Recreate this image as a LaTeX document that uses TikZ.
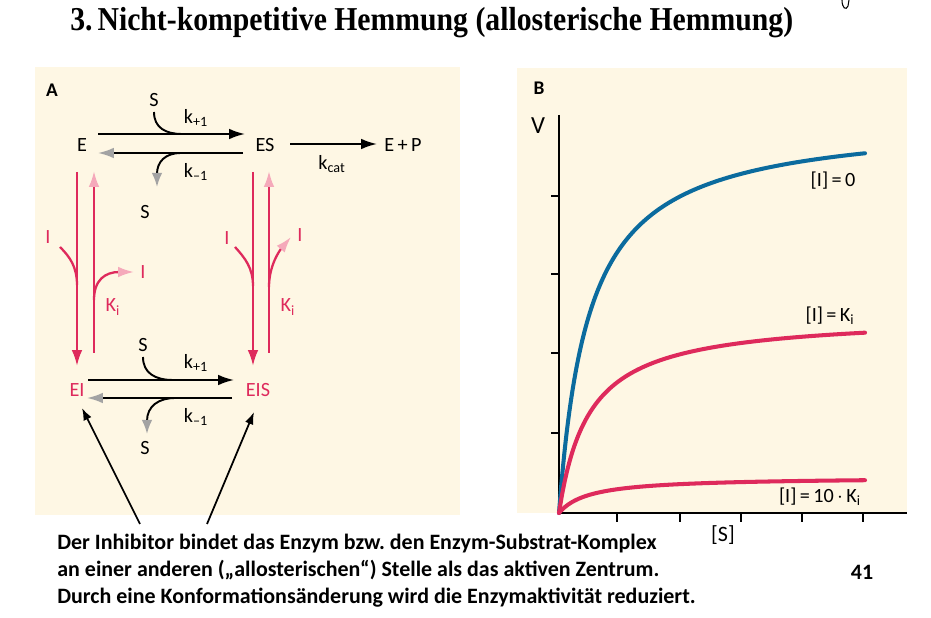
\documentclass[tikz,border=0pt]{standalone}
\usepackage{fontspec}
\setmainfont{Carlito}
\newfontfamily\titlefont{Liberation Serif}
\usetikzlibrary{arrows.meta,calc}

\definecolor{panelbg}{HTML}{FEF7E4}
\definecolor{hemmred}{HTML}{DE2A5C}
\definecolor{hemmpink}{HTML}{F5A9BA}
\definecolor{hemmgray}{HTML}{A3A3A3}
\definecolor{hemmblue}{HTML}{0B6B9E}

\tikzset{
  lbl/.style={inner sep=0pt, font=\fontsize{11.5}{12}\selectfont},
  fwd/.style={line width=1.1pt, -{Latex[length=9pt,width=6pt]}},
  bwd/.style={line width=1.1pt, -{Latex[length=9pt,width=6pt,color=hemmgray]}},
  redline/.style={hemmred, line width=1.3pt},
  reddown/.style={redline, -{Latex[length=9pt,width=6pt]}},
  redup/.style={redline, -{Latex[length=9pt,width=6pt,color=hemmpink]}},
  axis/.style={line width=1.6pt},
  mmcurve/.style={line width=2.3pt, line cap=round},
  pointer/.style={line width=1pt, -{Latex[length=7pt,width=5pt]}}
}

\begin{document}
\begin{tikzpicture}[x=0.02cm, y=-0.02cm]
  \fill[white] (0,0) rectangle (931,618);
  \useasboundingbox (0,0) rectangle (931,618);

  % Titel
  \node[inner sep=0pt, anchor=west] (title) at (70,23)
    {\scalebox{0.89}[1]{\titlefont\bfseries\fontsize{19}{21}\selectfont 3.\,Nicht-kompetitive Hemmung (allosterische Hemmung)}};
  \draw[line width=0.6pt] (842,0) .. controls (842,8) and (846,11) .. (848,6) -- (849,0);

  % Hintergrund der beiden Teilbilder
  \fill[panelbg] (35,67) rectangle (460,515);
  \fill[panelbg] (517,68) rectangle (907,513);

  % Teil A: Reaktionsschema
  \node[lbl, font=\bfseries\fontsize{11}{12}\selectfont] (labA) at (52,90) {A};
  \node[lbl] (E) at (82,145) {E};
  \node[lbl] (ES) at (265,145) {ES};
  \node[lbl] (EP) at (403,145) {E\,+\,P};
  \node[lbl, hemmred] (EI) at (77,390) {EI};
  \node[lbl, hemmred] (EIS) at (258,390) {EIS};

  % E <-> ES
  \draw[fwd] ($(E)+(16,-11)$) -- ($(ES)+(-20,-11)$);
  \draw[bwd] ($(ES)+(-22,8)$) -- ($(E)+(16,8)$);
  \node[lbl] (S1) at (154,100) {S};
  \draw[line width=1.1pt] ($(S1)+(0,12)$) .. controls ($(S1)+(0,28)$) and ($(S1)+(12,34)$) .. ($(S1)+(28,34)$);
  \node[lbl] (k1) at (196,118) {k\textsubscript{+1}};
  \node[lbl] (S2) at (145,212) {S};
  \draw[line width=1.1pt, -{Latex[length=8pt,width=6pt,color=hemmgray]}] ($(S2)+(36,-59)$) .. controls ($(S2)+(20,-59)$) and ($(S2)+(12,-50)$) .. ($(S2)+(12,-25)$);
  \node[lbl] (km1) at (196,172) {k\textsubscript{--1}};

  % ES -> E + P
  \draw[fwd] ($(ES)+(25,-1)$) -- ($(EP)+(-26,-1)$);
  \node[lbl] (kcat) at (332,164) {k\textsubscript{cat}};

  % EI <-> EIS
  \draw[fwd] ($(EI)+(11,-10)$) -- ($(EIS)+(-24,-10)$);
  \draw[bwd] ($(EIS)+(-26,8)$) -- ($(EI)+(10,8)$);
  \node[lbl] (S3) at (143,345) {S};
  \draw[line width=1.1pt] ($(S3)+(0,12)$) .. controls ($(S3)+(0,28)$) and ($(S3)+(12,35)$) .. ($(S3)+(30,35)$);
  \node[lbl] (k2) at (196,363) {k\textsubscript{+1}};
  \node[lbl] (S4) at (145,448) {S};
  \draw[line width=1.1pt, -{Latex[length=8pt,width=6pt,color=hemmgray]}] ($(S4)+(30,-50)$) .. controls ($(S4)+(14,-50)$) and ($(S4)+(2,-42)$) .. ($(S4)+(2,-14)$);
  \node[lbl] (km2) at (196,417) {k\textsubscript{--1}};

  % E <-> EI
  \draw[reddown] ($(E)+(-5,27)$) -- ($(EI)+(0,-24)$);
  \draw[redup] ($(EI)+(17,-37)$) -- ($(E)+(12,26)$);
  \node[lbl, hemmred] (I1) at (48,237) {I};
  \node[lbl, hemmred] (I2) at (143,272) {I};
  \draw[redline] ($(I1)+(12,10)$) .. controls ($(I1)+(22,20)$) and ($(I1)+(29,30)$) .. ($(I1)+(29,48)$);
  \draw[redup] ($(I2)+(-49,28)$) .. controls ($(I2)+(-49,8)$) and ($(I2)+(-38,0)$) .. ($(I2)+(-9,0)$);
  \node[lbl, hemmred] (Ki1) at (113,307) {K\textsubscript{i}};

  % ES <-> EIS
  \draw[reddown] ($(ES)+(-12,27)$) -- ($(EIS)+(-5,-24)$);
  \draw[redup] ($(EIS)+(11,-37)$) -- ($(ES)+(4,26)$);
  \node[lbl, hemmred] (I3) at (227,238) {I};
  \node[lbl, hemmred] (I4) at (300,235) {I};
  \draw[redline] ($(I3)+(8,9)$) .. controls ($(I3)+(18,20)$) and ($(I3)+(26,30)$) .. ($(I3)+(26,48)$);
  \draw[redup] ($(I4)+(-31,52)$) .. controls ($(I4)+(-31,30)$) and ($(I4)+(-20,15)$) .. ($(I4)+(-9,2)$);
  \node[lbl, hemmred] (Ki2) at (288,307) {K\textsubscript{i}};

  % Zeiger vom Text auf EI und EIS
  \coordinate (t1) at (140,524);
  \coordinate (t2) at (207,524);
  \draw[pointer] (t1) -- ($(EI)+(5,18)$);
  \draw[pointer] (t2) -- ($(EIS)+(-4,22)$);

  % Teil B: v gegen [S]
  \node[lbl, font=\bfseries\fontsize{11}{12}\selectfont] (labB) at (539,88) {B};
  \node[lbl, font=\fontsize{14}{15}\selectfont] (V) at (538,126) {V};
  \coordinate (O) at (559,513);
  \coordinate (ytop) at (559,115);
  \coordinate (xend) at (907,513);
  \draw[axis] (ytop) -- (O) -- (xend);
  \foreach \ty in {196,274,353,433}
    \draw[line width=0.8pt] (551,\ty) -- (559,\ty);
  \foreach \tx in {617,680,741,802,863}
    \draw[line width=0.8pt] (\tx,513) -- (\tx,522);
  \node[lbl, font=\fontsize{12.5}{13}\selectfont] (Sx) at (723,535) {[S]};

  \draw[mmcurve, hemmblue] plot[domain=0:306, samples=120, smooth] ({559+\x}, {513-395*(\x/(30+\x))});
  \draw[mmcurve, hemmred] plot[domain=0:306, samples=120, smooth] ({559+\x}, {513-198*(\x/(30+\x))});
  \draw[mmcurve, hemmred] plot[domain=0:306, samples=120, smooth] ({559+\x}, {513-36*(\x/(30+\x))});

  \node[lbl] (c0) at (833,181) {[I]\,=\,0};
  \node[lbl] (c1) at (830,316) {[I]\,=\,K\textsubscript{i}};
  \node[lbl] (c2) at (820,497) {[I]\,=\,10\,$\cdot$\,K\textsubscript{i}};

  % Erklaerung
  \node[anchor=north west, inner sep=0pt, align=left, font=\bfseries\fontsize{12.5}{15.2}\selectfont] (txt) at (57,534)
    {Der Inhibitor bindet das Enzym bzw.\ den Enzym-Substrat-Komplex\\
     an einer anderen („allosterischen“) Stelle als das aktiven Zentrum.\\
     Durch eine Konformationsänderung wird die Enzymaktivität reduziert.};
  \node[lbl, font=\bfseries\fontsize{12.5}{14}\selectfont] (pg) at (862,572) {41};
\end{tikzpicture}
\end{document}
